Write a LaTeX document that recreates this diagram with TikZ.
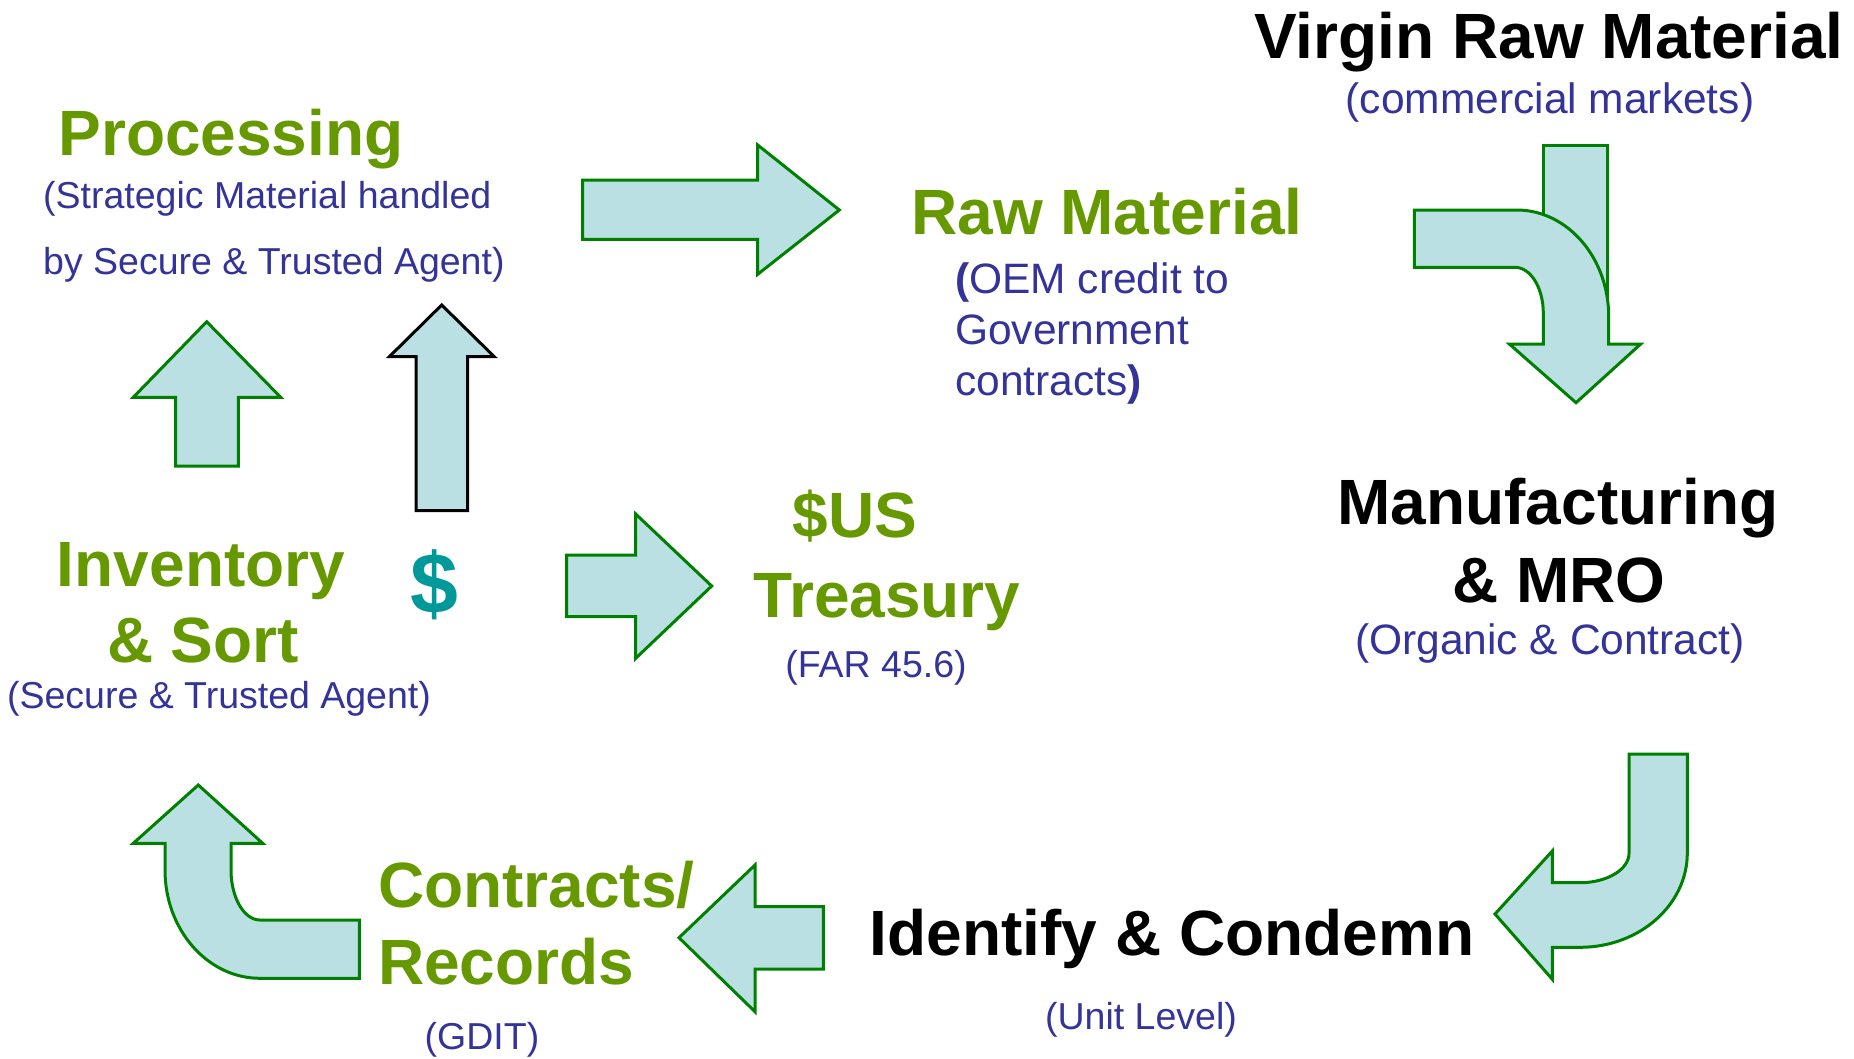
\documentclass[tikz,border=0pt]{standalone}
\usepackage{fontspec}
\setmainfont{Liberation Sans}
\definecolor{tgreen}{HTML}{669900}
\definecolor{tblue}{HTML}{333399}
\definecolor{tteal}{HTML}{009999}
\definecolor{afill}{HTML}{BBE0E3}
\definecolor{aline}{HTML}{008000}
\begin{document}
\begin{tikzpicture}[x=1pt,y=-1pt,
  blockarrow/.style={fill=afill,draw=aline,line width=3pt},
  ttl/.style={inner sep=0pt,font=\fontsize{64}{70}\selectfont\bfseries},
  gttl/.style={ttl,text=tgreen},
  sml/.style={inner sep=0pt,text=tblue,font=\fontsize{37.5}{44}\selectfont},
  mid/.style={inner sep=0pt,text=tblue,font=\fontsize{42.5}{50}\selectfont}]
\useasboundingbox (0,0) rectangle (1854,1058);

% ---------- block arrows ----------
% top: Processing -> Raw Material
\draw[blockarrow] (582.7,180) -- (757.7,180) -- (757.7,145) -- (839.3,210) -- (757.7,274.3) -- (757.7,239.3) -- (582.7,239.3) -- cycle;
% middle: $ -> Treasury
\draw[blockarrow] (566.7,555) -- (635.7,555) -- (635.7,514) -- (711.7,586) -- (635.7,658.3) -- (635.7,616.7) -- (566.7,616.7) -- cycle;
% bottom: Identify -> Contracts
\draw[blockarrow] (823.3,906.7) -- (755,906.7) -- (755,865) -- (679,937.7) -- (755,1011.7) -- (755,969) -- (823.3,969) -- cycle;
% green up arrow (Inventory -> Processing)
\draw[blockarrow] (175.7,466) -- (175.7,397.3) -- (133.3,397.3) -- (206.7,321.7) -- (280.7,397.3) -- (238.3,397.3) -- (238.3,466) -- cycle;
% black up arrow
\draw[blockarrow,draw=black] (416,510.7) -- (416,356.7) -- (389.3,356.7) -- (441.7,305) -- (494.3,356.7) -- (467.7,356.7) -- (467.7,510.7) -- cycle;
% top right: vertical bar behind
\draw[blockarrow] (1543.3,145.7) rectangle (1607.7,330);
% top right bent arrow
\draw[blockarrow] (1414.3,210) -- (1516.7,210)
  .. controls (1567.5,210) and (1608.7,257.8) .. (1608.7,316.7)
  -- (1608.7,344) -- (1640.7,344) -- (1576,402.7) -- (1509.3,344) -- (1543.3,344) -- (1543.3,313.3)
  .. controls (1543.3,287.9) and (1530.6,267.3) .. (1515,267.3)
  -- (1414.3,267.3) -- cycle;
% bottom right bent arrow
\draw[blockarrow] (1629,754) -- (1629,853.3)
  .. controls (1629,869.5) and (1607,882.7) .. (1580,882.7)
  -- (1552.3,882.7) -- (1552.3,851) -- (1495,914) -- (1552.3,979.3) -- (1552.3,947.3) -- (1580,947.3)
  .. controls (1639.2,947.3) and (1687.3,905) .. (1687.3,853)
  -- (1687.3,754) -- cycle;
% bottom left bent arrow
\draw[blockarrow] (198.3,785) -- (262.7,843.3) -- (231,843.3) -- (231,870)
  .. controls (231,897.6) and (244,920) .. (260,920)
  -- (359.3,920) -- (359.3,978.3) -- (260,978.3)
  .. controls (207.6,978.3) and (165,929.8) .. (165,870)
  -- (165,843.3) -- (133.3,843.3) -- cycle;

% ---------- texts ----------
\node[ttl,anchor=base] (virgin) at (1549,58) {Virgin Raw Material};
\node[mid,anchor=base] (commercial) at (1550,113) {(commercial markets)};

\node[gttl,anchor=base] (processing) at (231,155) {Processing};
\node[sml,anchor=base west] (strat1) at (43,208) {(Strategic Material handled};
\node[sml,anchor=base west] (strat2) at (43,274) {by Secure \& Trusted Agent)};

\node[gttl,anchor=base west] (raw) at (911,234) {Raw Material};
\node[mid,anchor=base west] (oem1) at (955,293) {{\bfseries(}OEM credit to};
\node[mid,anchor=base west] (oem2) at (955,344) {Government};
\node[mid,anchor=base west] (oem3) at (955,395) {contracts{\bfseries)}};

\node[ttl,anchor=base] (manuf) at (1558,524) {Manufacturing};
\node[ttl,anchor=base] (mro) at (1559,602) {\& MRO};
\node[mid,anchor=base] (organic) at (1550,654) {(Organic \& Contract)};

\node[ttl,anchor=base] (identify) at (1172,955) {Identify \& Condemn};
\node[sml,anchor=base] (unit) at (1141,1029) {(Unit Level)};

\node[gttl,anchor=base west] (contracts) at (378,907) {Contracts/};
\node[gttl,anchor=base west] (records) at (378,984) {Records};
\node[sml,anchor=base] (gdit) at (482,1049) {(GDIT)};

\node[gttl,anchor=base] (inventory) at (201,586) {Inventory};
\node[gttl,anchor=base] (sort) at (203,662) {\& Sort};
\node[sml,anchor=base] (secure) at (219,708) {(Secure \& Trusted Agent)};

\node[inner sep=0pt,text=tteal,font=\fontsize{86}{90}\selectfont\bfseries] (dollar) at (434,585) {\$};

\node[gttl,anchor=base] (us) at (855,537) {\$US};
\node[gttl,anchor=base] (treasury) at (887,617) {Treasury};
\node[sml,anchor=base] (far) at (876,677) {(FAR 45.6)};
\end{tikzpicture}
\end{document}
